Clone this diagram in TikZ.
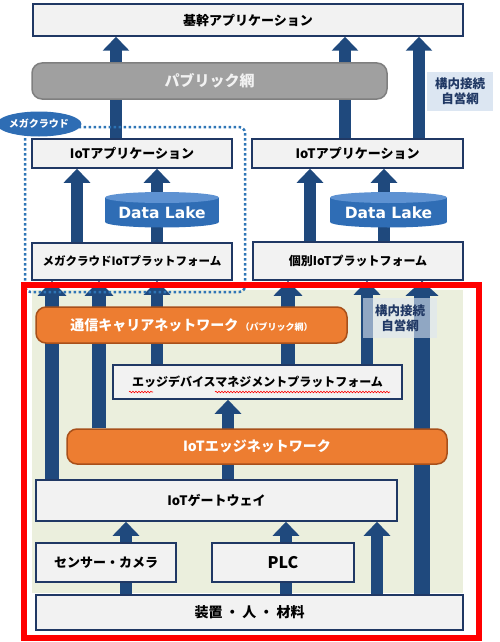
\documentclass[tikz,border=0pt]{standalone}
\usepackage{fontspec}
\setmainfont{Noto Sans CJK JP}
\newfontfamily\dlfont{DejaVu Sans}
\usetikzlibrary{arrows.meta,decorations.pathmorphing,shapes.geometric}
\definecolor{navy}{HTML}{203864}
\definecolor{arrowblue}{HTML}{1F497D}
\definecolor{boxgray}{HTML}{F2F2F2}
\definecolor{pubfill}{HTML}{A0A0A0}
\definecolor{pubdraw}{HTML}{7F7F7F}
\definecolor{orfill}{HTML}{ED7D31}
\definecolor{ordraw}{HTML}{A8501A}
\definecolor{lblfill}{HTML}{DCE6F2}
\definecolor{greenbg}{HTML}{EBEFDD}
\definecolor{dotblue}{HTML}{2E75B6}
\definecolor{ellfill}{HTML}{2E6DB4}
\definecolor{dltop}{HTML}{5E92D2}
\definecolor{dlbody}{HTML}{2F6DB5}
\pgfdeclarelayer{bg}
\pgfdeclarelayer{arr}
\pgfsetlayers{bg,arr,main}
\newcommand{\fs}[1]{\fontsize{#1}{#1}\selectfont}
\begin{document}
\begin{tikzpicture}[x=1pt,y=-1pt,
  box/.style={draw=navy,line width=1.5pt,fill=boxgray,inner sep=0pt,font=\bfseries\fs{12}},
  netgray/.style={draw=pubdraw,line width=1.5pt,fill=pubfill,rounded corners=10pt,inner sep=0pt,text=boxgray,font=\bfseries\fs{15}},
  netor/.style={draw=ordraw,line width=1.5pt,fill=orfill,rounded corners=10pt,inner sep=0pt,text=white,font=\bfseries\fs{14}},
  lbl/.style={fill=lblfill,inner sep=0pt,text=navy,align=center,font=\bfseries\fontsize{12.5}{15}\selectfont},
  fat/.style={draw=arrowblue,line width=12pt,line cap=butt,-{Triangle[width=26pt,length=14pt]}},
  fatb/.style={draw=arrowblue,line width=14pt,line cap=butt,-{Triangle[width=28pt,length=15pt]}},
  fatc/.style={draw=arrowblue,line width=16pt,line cap=butt,-{Triangle[width=32pt,length=15pt]}},
  dl/.style={text=white,font=\dlfont\bfseries\fs{15.5}}
]
\useasboundingbox (0,0) rectangle (500,642);

% column coordinates
\coordinate (cA) at (116,0);
\coordinate (cB) at (345,0);
\coordinate (cC) at (419,0);
\coordinate (cD) at (77,0);
\coordinate (cE) at (157,0);
\coordinate (cF) at (310,0);
\coordinate (cG) at (384,0);
\coordinate (cH) at (52,0);
\coordinate (cI) at (99,0);
\coordinate (cJ) at (288,0);
\coordinate (cK) at (367,0);
\coordinate (cL) at (422,0);
\coordinate (cM) at (228,0);
\coordinate (cN) at (126,0);
\coordinate (cO) at (286,0);
\coordinate (cP) at (377,0);

% green background
\begin{pgfonlayer}{bg}
\fill[greenbg] (32,290) rectangle (463,593);
\end{pgfonlayer}

% boxes
\node[box,minimum width=430pt,minimum height=32pt,font=\bfseries\fs{13}] (top) at (248,20) {基幹アプリケーション};
\node[netgray,minimum width=355pt,minimum height=36pt] (pub) at (209.5,81) {パブリック網};
\node[lbl,minimum width=66pt,minimum height=39pt] (lbl1) at (460,91.5) {構内接続\\自営網};
\node[box,minimum width=200pt,minimum height=29pt,font=\bfseries\fs{13}] (appL) at (132,153.5) {IoTアプリケーション};
\node[box,minimum width=211pt,minimum height=29pt,font=\bfseries\fs{13}] (appR) at (357.5,153.5) {IoTアプリケーション};
\node[box,minimum width=200pt,minimum height=37pt,font=\bfseries\fs{11.5}] (platL) at (132,261.5) {メガクラウドIoTプラットフォーム};
\node[box,minimum width=210pt,minimum height=38pt] (platR) at (358,261) {個別IoTプラットフォーム};

% data lakes
\fill[dlbody] (105,197.5) rectangle (219,222);
\fill[dlbody] (162,222) ellipse [x radius=57pt,y radius=5.5pt];
\fill[dltop] (162,197.5) ellipse [x radius=57pt,y radius=5.5pt];
\node[dl] (dlL) at (162,213) {Data Lake};
\fill[dlbody] (330,197.5) rectangle (447,222);
\fill[dlbody] (388.5,222) ellipse [x radius=58.5pt,y radius=5.5pt];
\fill[dltop] (388.5,197.5) ellipse [x radius=58.5pt,y radius=5.5pt];
\node[dl] (dlR) at (388.5,213) {Data Lake};

% mega cloud dotted region
\draw[dotblue,line width=2.5pt,dash pattern=on 2.5pt off 2.5pt,rounded corners=6pt] (25,127) rectangle (245,292);
\node[ellipse,fill=ellfill,minimum width=76pt,minimum height=25pt,inner sep=0pt,text=white,font=\bfseries\fs{10}] (mega) at (39,124) {メガクラウド};

% lower boxes
\node[netor,minimum width=311pt,minimum height=36pt] (carrier) at (191.5,325) {通信キャリアネットワーク\,{\fs{9}（パブリック網）}};
\node[lbl,minimum width=74pt,minimum height=40pt,fill opacity=0.6,text opacity=1] (lbl2) at (400,318) {構内接続\\自営網};
\node[box,minimum width=289pt,minimum height=34pt] (mgmt) at (257.5,382) {エッジデバイスマネジメントプラットフォーム};
\node[netor,minimum width=380pt,minimum height=35pt] (edge) at (257,446.5) {IoTエッジネットワーク};
\node[box,minimum width=361pt,minimum height=41pt,font=\bfseries\fs{13}] (gw) at (216.5,500.5) {IoTゲートウェイ};
\node[box,minimum width=140pt,minimum height=39pt,font=\bfseries\fs{13}] (sensor) at (106,562.5) {センサー・カメラ};
\node[box,minimum width=142pt,minimum height=39pt,font=\bfseries\fs{16}] (plc) at (283,562.5) {PLC};
\node[box,minimum width=427pt,minimum height=35pt,font=\bfseries\fs{14}] (dev) at (249.5,612.5) {装置\hspace{3pt}・\hspace{3pt}人\hspace{3pt}・\hspace{3pt}材料};

% spell-check underline
\draw[red,line width=0.6pt,decorate,decoration={snake,segment length=3pt,amplitude=0.8pt}] (129,392) -- (153,392);
\draw[red,line width=0.6pt,decorate,decoration={snake,segment length=3pt,amplitude=0.8pt}] (215,392) -- (390,392);

% arrows
\begin{pgfonlayer}{arr}
\draw[fat] (appL.north -| cA) -- (top.south -| cA);
\draw[fat] (appR.north -| cB) -- (top.south -| cB);
\draw[fat] (appR.north -| cC) -- (top.south -| cC);
\draw[fat] (platL.north -| cD) -- (appL.south -| cD);
\draw[fat] (platL.north -| cE) -- (appL.south -| cE);
\draw[fat] (platR.north -| cF) -- (appR.south -| cF);
\draw[fat] (platR.north -| cG) -- (appR.south -| cG);
\draw[fatb] (gw.north -| cH) -- (platL.south -| cH);
\draw[fatb] (edge.north -| cI) -- (platL.south -| cI);
\draw[fat] (mgmt.north -| cE) -- (platL.south -| cE);
\draw[fatb] (mgmt.north -| cJ) -- (platR.south -| cJ);
\draw[fat] (mgmt.north -| cK) -- (platR.south -| cK);
\draw[fatc] (dev.north -| cL) -- (platR.south -| cL);
\draw[fat] (gw.north -| cM) -- (mgmt.south -| cM);
\draw[fat] (dev.north -| cN) -- (gw.south -| cN);
\draw[fat] (dev.north -| cO) -- (gw.south -| cO);
\draw[fat] (dev.north -| cP) -- (gw.south -| cP);
\end{pgfonlayer}

% red frame
\draw[red,line width=6pt] (24,285) rectangle (479,638);
\end{tikzpicture}
\end{document}
